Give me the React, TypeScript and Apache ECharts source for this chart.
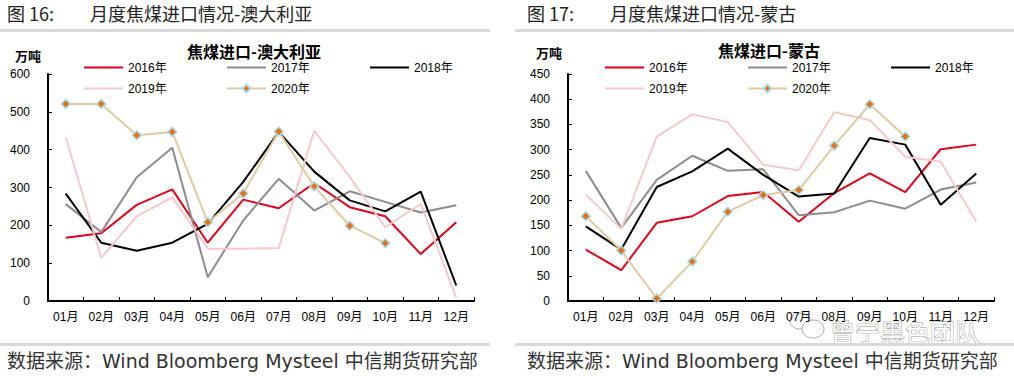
import React, { useEffect, useRef } from "react";
import * as echarts from "echarts";

const months = ["01月", "02月", "03月", "04月", "05月", "06月", "07月", "08月", "09月", "10月", "11月", "12月"];
const seriesNames = ["2016年", "2017年", "2018年", "2019年", "2020年"];

// 澳大利亚
const au2016 = [167, 179, 254, 295, 154, 268, 245, 312, 248, 224, 124, 208];
const au2017 = [256, 182, 327, 405, 63, 213, 323, 239, 290, 262, 234, 253];
const au2018 = [284, 154, 133, 154, 204, 315, 447, 342, 266, 237, 289, 41];
const au2019 = [433, 114, 224, 274, 138, 138, 140, 450, 328, 195, 257, 9];
const au2020 = [521, 521, 438, 447, 208, 284, 448, 303, 199, 153];

// 蒙古
const mn2016 = [102, 61, 155, 168, 208, 216, 157, 214, 253, 216, 301, 310];
const mn2017 = [258, 145, 240, 288, 258, 261, 170, 176, 199, 183, 221, 235];
const mn2018 = [148, 102, 226, 257, 302, 250, 207, 213, 323, 310, 191, 253];
const mn2019 = [211, 143, 326, 370, 355, 270, 259, 374, 359, 286, 276, 157];
const mn2020 = [168, 100, 5, 78, 177, 210, 220, 308, 390, 326];

const colors = ["#e0001b", "#8c8c8c", "#000000", "#f6c9cb", "#dfcaa2"];

const CJK = "'Liberation Sans', Arial, 'Noto Sans CJK SC', sans-serif";

export default function App() {
  const ref = useRef<HTMLDivElement>(null);
  useEffect(() => {
    const chart = echarts.init(ref.current!, null, { renderer: "svg" });

    const makeSeries = (data: number[][], xi: number) =>
      data.map((d, i) => ({
        name: seriesNames[i],
        type: "line",
        xAxisIndex: xi,
        yAxisIndex: xi,
        data: d,
        smooth: false,
        symbol: i === 4 ? "diamond" : "none",
        symbolSize: 9,
        showSymbol: i === 4,
        lineStyle: { color: colors[i], width: 2 },
        itemStyle: i === 4 ? { color: "#e8700f", borderColor: "#a8dcec", borderWidth: 1.5 } : { color: colors[i] },
        z: i === 4 ? 5 : 3,
      }));

    const grids = [
      { left: 48, top: 74, width: 426, height: 227 },
      { left: 568, top: 74, width: 426, height: 227 },
    ];

    const xAxisBase = (gi: number) => ({
      type: "category",
      gridIndex: gi,
      data: months,
      boundaryGap: true,
      axisLine: { lineStyle: { color: "#000", width: 2 } },
      axisTick: { show: true, inside: true, length: 4, lineStyle: { color: "#000", width: 1 } },
      axisLabel: { color: "#000", fontSize: 12, fontFamily: CJK, margin: 10 },
      splitLine: { show: false },
    });

    const yAxisBase = (gi: number, max: number, interval: number) => ({
      type: "value",
      gridIndex: gi,
      min: 0,
      max,
      interval,
      axisLine: { show: true, lineStyle: { color: "#000", width: 2 } },
      axisTick: { show: true, inside: true, length: 4, lineStyle: { color: "#000", width: 1 } },
      axisLabel: { color: "#000", fontSize: 12, fontFamily: CJK, margin: 18 },
      splitLine: { show: false },
    });

    const legendData = seriesNames.map((n, i) =>
      i === 4 ? { name: n } : { name: n, itemStyle: { opacity: 0 } }
    );

    const legendBase = (left: number) => ({
      left,
      top: 57,
      width: 430,
      orient: "horizontal",
      itemGap: 0,
      itemWidth: 39,
      itemHeight: 10,
      data: legendData,
      textStyle: { color: "#000", fontSize: 12, fontFamily: CJK, width: 98, height: 21, lineHeight: 21, padding: [0, 0, 0, 0] },
      padding: 0,
      selectedMode: false,
    });

    const textStyle = (fs: number, weight = "normal", color = "#222") => ({
      fill: color,
      fontSize: fs,
      fontWeight: weight,
      fontFamily: "'Noto Sans CJK SC', sans-serif",
    });

    const footStyle = {
      fill: "#333",
      fontSize: 19,
      fontFamily: "'DejaVu Sans', 'Noto Sans CJK SC', sans-serif",
      fontWeight: "normal",
    };

    chart.setOption({
      animation: false,
      backgroundColor: "#fff",
      grid: grids,
      xAxis: [xAxisBase(0), xAxisBase(1)],
      yAxis: [yAxisBase(0, 600, 100), yAxisBase(1, 450, 50)],
      legend: [legendBase(83), legendBase(604)],
      series: [
        ...makeSeries([au2016, au2017, au2018, au2019, au2020], 0),
        ...makeSeries([mn2016, mn2017, mn2018, mn2019, mn2020], 1),
      ],
      graphic: [
        // header titles
        { type: "text", left: 7, top: 4, style: { text: "图 16:", ...textStyle(18) } },
        { type: "text", left: 90, top: 4, style: { text: "月度焦煤进口情况-澳大利亚", ...textStyle(18) } },
        { type: "text", left: 527, top: 4, style: { text: "图 17:", ...textStyle(18) } },
        { type: "text", left: 610, top: 4, style: { text: "月度焦煤进口情况-蒙古", ...textStyle(18) } },
        { type: "rect", shape: { x: 0, y: 29, width: 490, height: 3 }, style: { fill: "#d9d9d9" } },
        { type: "rect", shape: { x: 515, y: 29, width: 499, height: 3 }, style: { fill: "#d9d9d9" } },
        // chart titles
        { type: "text", x: 254, y: 51, style: { text: "焦煤进口-澳大利亚", align: "center", verticalAlign: "middle", ...textStyle(16, "bold", "#000") } },
        { type: "text", x: 769, y: 50, style: { text: "焦煤进口-蒙古", align: "center", verticalAlign: "middle", ...textStyle(16, "bold", "#000") } },
        { type: "text", x: 28, y: 55, style: { text: "万吨", align: "center", verticalAlign: "middle", ...textStyle(13, "bold", "#000") } },
        { type: "text", x: 549, y: 52, style: { text: "万吨", align: "center", verticalAlign: "middle", ...textStyle(13, "bold", "#000") } },
        // watermark
        { type: "ellipse", shape: { cx: 800, cy: 321, rx: 10, ry: 8 }, style: { fill: "#fff", stroke: "#aaa", lineWidth: 1 } },
        { type: "ellipse", shape: { cx: 813, cy: 329, rx: 11, ry: 9 }, style: { fill: "#fff", stroke: "#aaa", lineWidth: 1 } },
        { type: "text", x: 830, y: 331, style: { text: "曾宁黑色团队", verticalAlign: "middle", fill: "#fff", stroke: "#999", lineWidth: 1, fontSize: 25, fontFamily: "'Noto Sans CJK SC', sans-serif" } },
        // footers
        { type: "rect", shape: { x: 0, y: 343, width: 490, height: 3 }, style: { fill: "#d9d9d9" } },
        { type: "rect", shape: { x: 515, y: 343, width: 499, height: 3 }, style: { fill: "#d9d9d9" } },
        { type: "text", x: 7, y: 361, style: { text: "数据来源：Wind Bloomberg Mysteel 中信期货研究部", verticalAlign: "middle", ...footStyle } },
        { type: "text", x: 527, y: 361, style: { text: "数据来源：Wind Bloomberg Mysteel 中信期货研究部", verticalAlign: "middle", ...footStyle } },
      ],
    });
    return () => chart.dispose();
  }, []);
  return <div ref={ref} style={{ position: "absolute", left: 0, top: 0, width: 1014, height: 376 }} />;
}
